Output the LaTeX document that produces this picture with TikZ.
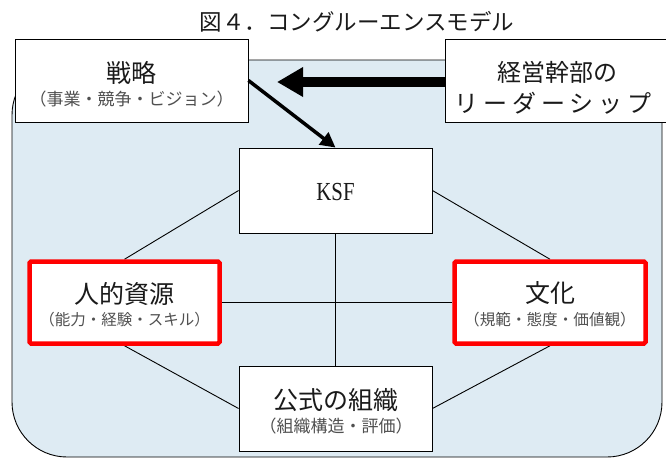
\documentclass[tikz,border=0pt]{standalone}
\usepackage{fontspec}
\newfontfamily\jp{Noto Sans CJK JP}
\newfontfamily\jpsp[LetterSpace=20]{Noto Sans CJK JP}
\newfontfamily\ser{Liberation Serif}
\usetikzlibrary{arrows.meta}
\pgfdeclarelayer{panel}
\pgfdeclarelayer{links}
\pgfsetlayers{panel,links,main}
\definecolor{bgblue}{HTML}{DEEBF3}
\definecolor{subgray}{HTML}{505050}
\definecolor{maintext}{HTML}{1A1A1A}
\begin{document}
\begin{tikzpicture}[x=1pt,y=-1pt,
  box/.style={draw=black, line width=0.9pt, fill=white, inner sep=0pt},
  redbox/.style={draw=red, line width=4.5pt, fill=white, inner sep=0pt, rounded corners=1.5pt},
  conn/.style={draw=black, line width=0.9pt},
  mainlbl/.style={font=\jp\fontsize{25}{30}\selectfont, text=maintext, inner sep=0pt},
  sublbl/.style={font=\jp\fontsize{16}{20}\selectfont, text=subgray, inner sep=0pt},
  bigarrow/.style={line width=10pt, -{Triangle[length=26pt,width=28pt]}},
  diagarrow/.style={line width=3.5pt, -{Triangle[length=15pt,width=15pt]}}
]
\useasboundingbox (0,0) rectangle (666,458);
% background panel
\begin{pgfonlayer}{panel}
\path[draw=black, line width=0.9pt, fill=bgblue, rounded corners=55pt] (12,60) rectangle (662,457);
\end{pgfonlayer}

% boxes
\node[box, minimum width=193pt, minimum height=85pt] (ksf) at (335.5,190.5) {};
\node[redbox, minimum width=190pt, minimum height=82pt] (jinteki) at (124.5,302.5) {};
\node[redbox, minimum width=191pt, minimum height=82pt] (bunka) at (550,302.5) {};
\node[box, minimum width=193pt, minimum height=85pt] (koushiki) at (335.5,408.5) {};
\node[box, minimum width=233pt, minimum height=83pt] (senryaku) at (131.5,80.5) {};
\node[box, minimum width=222pt, minimum height=83pt] (keiei) at (556,80.5) {};

% connectors (behind the boxes)
\begin{pgfonlayer}{links}
\draw[conn] (ksf.west) -- (jinteki.north);
\draw[conn] (ksf.east) -- (bunka.north);
\draw[conn] (jinteki.east) -- (bunka.west);
\draw[conn] (ksf.south) -- (koushiki.north);
\draw[conn] (jinteki.south) -- (koushiki.west);
\draw[conn] (bunka.south) -- (koushiki.east);
\end{pgfonlayer}

% title
\node[inner sep=0pt, text=maintext, font=\jp\fontsize{22.5}{27}\selectfont] (title) at (357,22) {図４．コングルーエンスモデル};

% texts
\node[mainlbl] (senryaku-t) at (131.5,73) {戦略};
\node[sublbl, font=\jp\fontsize{17}{20}\selectfont] (senryaku-s) at (131.5,99) {（事業・競争・ビジョン）};

\node[mainlbl, font=\jp\fontsize{24}{30}\selectfont] (keiei-t1) at (557,72) {経営幹部の};
\node[mainlbl, font=\jpsp\fontsize{24}{30}\selectfont] (keiei-t2) at (553,103) {リーダーシップ};

\node[inner sep=0pt, text=maintext, font=\ser\fontsize{26}{30}\selectfont, xscale=0.8, transform shape] (ksf-t) at (335.5,192) {KSF};

\node[mainlbl] (jinteki-t) at (124.5,294) {人的資源};
\node[sublbl, font=\jp\fontsize{15.5}{20}\selectfont] (jinteki-s) at (124.5,320) {（能力・経験・スキル）};

\node[mainlbl] (bunka-t) at (550,293) {文化};
\node[sublbl, font=\jp\fontsize{15.6}{20}\selectfont] (bunka-s) at (550,320) {（規範・態度・価値観）};

\node[mainlbl] (koushiki-t) at (336,400) {公式の組織};
\node[sublbl, font=\jp\fontsize{17}{20}\selectfont] (koushiki-s) at (336,426) {（組織構造・評価）};

% arrows
\coordinate (tipA) at (277,82);
\draw[bigarrow] (keiei.west |- tipA) -- (tipA);
\draw[diagarrow] (senryaku.east) -- (ksf.north);
\end{tikzpicture}
\end{document}
